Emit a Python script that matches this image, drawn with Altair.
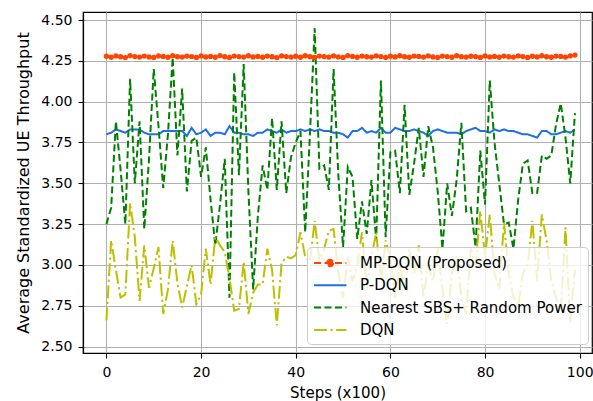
import altair as alt
import pandas as pd

steps = list(range(100))

mp_dqn = [4.278, 4.272, 4.280, 4.275, 4.270, 4.282, 4.276, 4.273, 4.279, 4.274,
          4.271, 4.280, 4.277, 4.272, 4.281, 4.275, 4.273, 4.279, 4.276, 4.271,
          4.280, 4.274, 4.277, 4.272, 4.282, 4.275, 4.271, 4.279, 4.276, 4.273,
          4.281, 4.274, 4.277, 4.272, 4.279, 4.275, 4.270, 4.280, 4.276, 4.273,
          4.278, 4.272, 4.281, 4.275, 4.271, 4.279, 4.276, 4.273, 4.280, 4.274,
          4.271, 4.282, 4.277, 4.272, 4.279, 4.275, 4.273, 4.280, 4.276, 4.271,
          4.278, 4.274, 4.281, 4.275, 4.272, 4.279, 4.277, 4.273, 4.280, 4.274,
          4.271, 4.279, 4.276, 4.272, 4.281, 4.275, 4.273, 4.278, 4.276, 4.271,
          4.280, 4.274, 4.277, 4.272, 4.279, 4.275, 4.273, 4.280, 4.276, 4.271,
          4.278, 4.274, 4.281, 4.275, 4.272, 4.279, 4.277, 4.273, 4.280, 4.285]

p_dqn = [3.80, 3.81, 3.83, 3.82, 3.81, 3.83, 3.83, 3.83, 3.81, 3.80,
         3.80, 3.80, 3.82, 3.82, 3.82, 3.82, 3.82, 3.79, 3.84, 3.80,
         3.81, 3.83, 3.79, 3.81, 3.81, 3.80, 3.85, 3.81, 3.81, 3.80,
         3.80, 3.79, 3.81, 3.81, 3.83, 3.82, 3.81, 3.83, 3.81, 3.82,
         3.82, 3.83, 3.82, 3.83, 3.82, 3.83, 3.82, 3.82, 3.81, 3.81,
         3.80, 3.78, 3.82, 3.82, 3.84, 3.81, 3.82, 3.81, 3.84, 3.81,
         3.81, 3.84, 3.83, 3.82, 3.82, 3.83, 3.82, 3.81, 3.79, 3.82,
         3.83, 3.82, 3.81, 3.81, 3.81, 3.80, 3.82, 3.83, 3.84, 3.82,
         3.82, 3.81, 3.83, 3.82, 3.83, 3.82, 3.82, 3.81, 3.80, 3.80,
         3.79, 3.78, 3.82, 3.82, 3.80, 3.80, 3.81, 3.82, 3.81, 3.83]

nearest = [3.25, 3.35, 3.88, 3.58, 3.25, 4.14, 3.50, 3.88, 3.22, 3.65,
           4.20, 3.85, 3.47, 3.80, 4.27, 3.67, 4.08, 3.45, 3.76, 3.78,
           3.54, 3.72, 3.40, 3.12, 3.37, 3.65, 2.80, 4.18, 3.55, 4.23,
           3.45, 2.85, 3.30, 3.61, 3.46, 3.90, 3.46, 3.88, 3.44, 3.66,
           3.75, 3.82, 3.20, 3.80, 4.45, 3.59, 3.61, 3.46, 4.20, 3.55,
           3.11, 3.60, 3.54, 3.16, 3.39, 3.19, 3.52, 3.15, 4.13, 3.17,
           3.69, 3.70, 3.44, 3.98, 3.43, 3.62, 3.84, 3.54, 3.85, 3.72,
           3.45, 3.10, 3.50, 3.30, 3.52, 3.87, 3.33, 3.35, 3.11, 3.70,
           3.37, 4.13, 3.75, 3.50, 3.25, 3.26, 3.10, 3.40, 3.62, 3.64,
           3.44, 3.44, 3.67, 3.65, 3.67, 3.86, 3.99, 3.78, 3.50, 3.93]

dqn = [2.66, 3.15, 2.97, 2.80, 2.82, 3.38, 3.17, 2.78, 3.12, 2.86,
       2.98, 3.11, 2.70, 2.85, 3.15, 2.89, 2.74, 2.87, 3.00, 2.76,
       2.82, 3.10, 2.88, 3.17, 3.12, 3.08, 2.92, 2.72, 2.73, 3.02,
       2.70, 2.83, 2.88, 2.88, 3.10, 2.97, 2.63, 3.01, 3.05, 3.04,
       3.06, 3.20, 3.05, 3.02, 3.27, 3.03, 3.10, 3.21, 3.22, 2.95,
       2.80, 3.05, 2.90, 3.00, 3.20, 2.85, 3.05, 3.20, 2.90, 3.15,
       3.05, 2.80, 3.00, 2.85, 3.10, 2.95, 3.12, 2.80, 3.00, 2.90,
       3.10, 2.85, 2.64, 2.95, 3.05, 2.80, 2.70, 3.10, 3.00, 3.33,
       3.05, 3.31, 2.95, 2.85, 3.26, 2.95, 2.80, 2.75, 2.95, 3.00,
       3.27, 2.90, 3.31, 3.15, 2.90, 2.80, 2.72, 3.23, 2.65, 2.97]

series_names = ["MP-DQN (Proposed)", "P-DQN", "Nearest SBS+ Random Power", "DQN"]
series_colors = ["#FF4500", "#1F6FE5", "#008000", "#BFBF00"]
series_dashes = [[7, 3.5], [1, 0], [7, 3.5], [13, 3.5, 2.2, 3.5]]
# legend handles: a line segment (plus a dot for the proposed method), in symbol units
legend_shapes = ["M-1,0H2.6M1.15,0A0.35,0.35,0,1,1,0.45,0A0.35,0.35,0,1,1,1.15,0Z",
                 "M-1,0H2.6", "M-1,0H2.6", "M-1,0H2.6"]
x_ticks = [0, 20, 40, 60, 80, 100]
y_ticks = [2.50, 2.75, 3.00, 3.25, 3.50, 3.75, 4.00, 4.25, 4.50]

rows = []
for name, vals in zip(series_names, [mp_dqn, p_dqn, nearest, dqn]):
    for s, v in zip(steps, vals):
        rows.append({"step": s, "value": v, "series": name})
df = pd.DataFrame(rows)

FONT = "DejaVu Sans"

x_enc = alt.X("step:Q", scale=alt.Scale(domain=[-4.95, 102.6], nice=False, zero=False),
              axis=alt.Axis(values=x_ticks, title="Steps (x100)", format="d",
                            labelPadding=7, titlePadding=6))
y_enc = alt.Y("value:Q", scale=alt.Scale(domain=[2.461, 4.549], nice=False, zero=False),
              axis=alt.Axis(values=y_ticks, title="Average Standardized UE Throughput",
                            format=".2f", labelPadding=6, titlePadding=9, titleFontSize=16))

color_scale = alt.Scale(domain=series_names, range=series_colors)
dash_scale = alt.Scale(domain=series_names, range=series_dashes)
shape_scale = alt.Scale(domain=series_names, range=legend_shapes)

leg = alt.Legend(title=None, orient="none", legendX=224, legendY=235,
                 symbolSize=324, symbolStrokeWidth=2, labelFontSize=15, labelFont=FONT,
                 labelColor="black", labelLimit=400, labelOffset=27, rowPadding=4.3,
                 padding=6, fillColor="rgba(255,255,255,0.8)", strokeColor="#cccccc",
                 cornerRadius=4, symbolOpacity=1)

lines = alt.Chart(df).mark_line(strokeWidth=2, clip=True).encode(
    x=x_enc, y=y_enc,
    color=alt.Color("series:N", scale=color_scale, legend=leg),
    strokeDash=alt.StrokeDash("series:N", scale=dash_scale, legend=leg),
    order=alt.Order("step:Q"),
)

points = alt.Chart(df).transform_filter(
    alt.datum.series == series_names[0]
).mark_circle(size=28, opacity=1, color=series_colors[0]).encode(x=x_enc, y=y_enc)

dummy = alt.Chart(df).transform_filter("false").mark_point(filled=True, opacity=1).encode(
    x=x_enc, y=y_enc,
    color=alt.Color("series:N", scale=color_scale, legend=leg),
    stroke=alt.Stroke("series:N", scale=color_scale, legend=leg),
    shape=alt.Shape("series:N", scale=shape_scale, legend=leg),
    strokeDash=alt.StrokeDash("series:N", scale=dash_scale, legend=leg),
)

chart = alt.layer(lines, points, dummy).properties(
    width=509, height=341,
    autosize=alt.AutoSizeParams(type="none"),
    padding={"left": 83, "top": 12, "right": 1, "bottom": 48},
    background="white",
).configure_view(stroke="black", strokeWidth=1.2).configure_axis(
    labelFont=FONT, labelFontSize=14, labelColor="black",
    titleFont=FONT, titleFontSize=15, titleFontWeight="normal", titleColor="black",
    tickColor="black", tickSize=5, tickWidth=1.1, domainColor="black", domainWidth=1.2,
    gridColor="#b0b0b0", gridWidth=1.1,
)

chart.save("out.html", embed_options={"renderer": "svg", "actions": False})
